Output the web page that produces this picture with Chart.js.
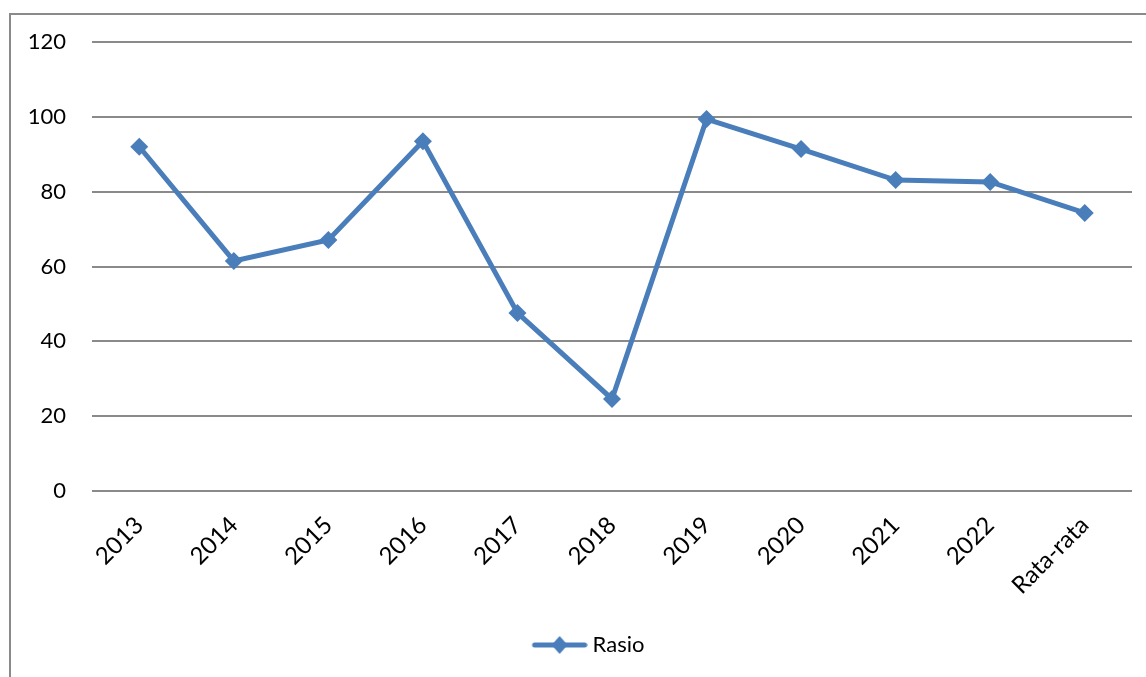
<!DOCTYPE html>
<html>
<head>
<meta charset="utf-8">
<script src="https://cdn.jsdelivr.net/npm/chart.js@4"></script>
<style>
  html, body { margin: 0; padding: 0; background: #fff; }
  #wrap { position: relative; width: 1146px; height: 677px; overflow: hidden; }
  #frame { position: absolute; left: 9px; top: 13px; width: 1200px; height: 700px;
           border-left: 2px solid #8a8a8a; border-top: 2px solid #8a8a8a; }
  #ratioChart { position: absolute; left: 0; top: 0; }
</style>
</head>
<body>
<div id="wrap">
  <div id="frame"></div>
  <canvas id="ratioChart" width="1146" height="677"></canvas>
</div>
<script>
const years = ['2013', '2014', '2015', '2016', '2017', '2018', '2019', '2020', '2021', '2022', 'Rata-rata'];
const rasio = [92, 61.5, 67.1, 93.5, 47.6, 24.6, 99.4, 91.4, 83.1, 82.6, 74.3];
const yTicks = [0, 20, 40, 60, 80, 100, 120];

const BLUE = '#4a7ebb';
const FONT = 'Lato, "Open Sans", sans-serif';

// legend swatch: short line with a diamond, sitting at the right end of a wider image
function legendSwatch() {
    const c = document.createElement('canvas');
    c.width = 106; c.height = 22;
    const g = c.getContext('2d');
    g.strokeStyle = BLUE;
    g.lineWidth = 5;
    g.lineCap = 'round';
    g.beginPath();
    g.moveTo(53, 11); g.lineTo(103, 11);
    g.stroke();
    g.fillStyle = BLUE;
    g.beginPath();
    g.moveTo(78, 2); g.lineTo(86, 11); g.lineTo(78, 20); g.lineTo(70, 11);
    g.closePath();
    g.fill();
    return c;
}

const ctx = document.getElementById('ratioChart').getContext('2d');
new Chart(ctx, {
    type: 'line',
    data: {
        labels: years,
        datasets: [{
            label: 'Rasio',
            data: rasio,
            borderColor: BLUE,
            backgroundColor: BLUE,
            borderWidth: 5,
            pointStyle: 'rectRot',
            pointRadius: 9,
            pointBackgroundColor: BLUE,
            pointBorderWidth: 0,
            tension: 0
        }]
    },
    options: {
        responsive: false,
        animation: false,
        layout: { padding: { top: 42, right: 14, bottom: 11, left: 0 } },
        plugins: {
            tooltip: { enabled: false },
            legend: {
                position: 'bottom',
                labels: {
                    usePointStyle: true,
                    pointStyle: legendSwatch(),
                    pointStyleWidth: 94,
                    padding: 10,
                    color: '#000',
                    font: { family: FONT, size: 22 }
                }
            }
        },
        scales: {
            x: {
                offset: true,
                grid: { display: false, drawTicks: false },
                border: { display: false },
                ticks: {
                    color: '#000',
                    font: { family: FONT, size: 24 },
                    minRotation: 45,
                    maxRotation: 45,
                    padding: 20
                },
                afterFit: (scale) => { scale.height = 133; }
            },
            y: {
                min: 0,
                max: 120,
                afterBuildTicks: (scale) => { scale.ticks = yTicks.map(v => ({ value: v })); },
                grid: { color: '#8a8a8a', lineWidth: 2, drawTicks: false },
                border: { display: false },
                ticks: {
                    color: '#000',
                    font: { family: FONT, size: 22 },
                    padding: 26
                },
                afterFit: (scale) => { scale.width = 92; }
            }
        }
    }
});
</script>
</body>
</html>
